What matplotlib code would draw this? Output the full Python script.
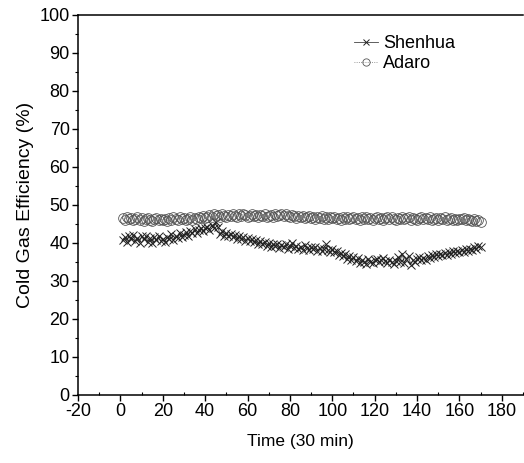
import matplotlib
matplotlib.use("Agg")
import matplotlib.pyplot as plt
from matplotlib.ticker import MultipleLocator

plt.rcParams['font.family'] = ['Liberation Sans', 'DejaVu Sans']
plt.rcParams['axes.unicode_minus'] = False

time = list(range(1, 171))

shenhua = [
    40.8, 41.5, 40.2, 41.9, 41.0, 42.1, 40.6, 41.3, 40.1, 41.7,
    40.9, 41.8, 40.3, 41.2, 40.0, 41.6, 40.7, 41.9, 40.4, 41.1,
    40.2, 41.5, 41.0, 42.3, 40.8, 41.9, 41.2, 42.6, 41.5, 42.2,
    42.8, 41.9, 43.1, 42.5, 43.6, 42.7, 43.3, 44.0, 43.2, 43.8,
    44.2, 43.5, 44.6, 43.9, 45.6, 44.1, 42.3, 43.0, 41.8, 42.6,
    41.9, 42.4, 41.5, 42.1, 41.0, 41.8, 40.9, 41.5, 40.6, 41.2,
    40.4, 41.0, 40.2, 40.8, 39.6, 40.5, 39.8, 40.3, 39.2, 39.9,
    38.9, 39.7, 39.1, 39.8, 38.7, 39.4, 38.8, 39.6, 38.5, 39.2,
    40.0, 38.6, 39.3, 38.4, 39.0, 38.2, 39.5, 38.7, 38.1, 38.9,
    38.3, 39.0, 37.9, 38.6, 37.8, 38.5, 39.6, 38.0, 37.7, 38.3,
    37.5, 37.9, 36.8, 37.4, 36.5, 37.1, 35.8, 36.6, 35.4, 36.2,
    35.2, 35.9, 34.8, 35.6, 35.1, 34.5, 35.7, 35.0, 34.6, 35.5,
    35.8, 34.9, 35.4, 36.0, 35.2, 34.7, 35.6, 35.0, 34.4, 35.3,
    36.4, 35.1, 37.2, 34.6, 35.8, 36.6, 34.3, 35.5, 34.9, 35.7,
    36.2, 35.4, 36.1, 35.6, 36.5, 36.0, 36.8, 36.3, 37.0, 36.6,
    37.2, 36.7, 37.4, 36.9, 37.6, 37.1, 37.8, 37.3, 37.9, 37.5,
    38.1, 37.7, 38.3, 37.9, 38.5, 38.2, 38.8, 38.4, 39.1, 38.9,
]

adaro = [
    46.5, 46.0, 46.8, 46.2, 46.6, 45.9, 46.4, 46.7, 46.1, 46.5,
    45.8, 46.3, 46.6, 46.0, 45.7, 46.2, 46.5, 45.9, 46.3, 46.0,
    46.4, 45.8, 46.6, 46.1, 46.8, 46.3, 46.0, 46.7, 46.2, 46.5,
    45.9, 46.4, 46.8, 46.1, 46.6, 46.3, 46.9, 46.5, 47.0, 46.6,
    46.9, 47.3, 46.7, 47.6, 47.1, 47.4, 46.9, 47.5, 47.2, 46.8,
    47.4, 47.0, 47.6, 47.2, 46.9, 47.5, 47.1, 47.7, 47.3, 46.9,
    47.2, 47.6, 47.0, 47.4, 46.8, 47.3, 47.1, 47.5, 46.9, 47.2,
    47.4, 46.9, 47.6, 47.1, 47.3, 47.7, 47.0, 47.5, 47.2, 46.8,
    47.3, 47.0, 46.6, 47.2, 46.8, 47.1, 46.5, 46.9, 47.2, 46.6,
    46.9, 46.3, 46.8, 46.5, 47.0, 46.4, 46.7, 46.2, 46.9, 46.5,
    46.8, 46.3, 46.6, 46.1, 46.7, 46.4, 46.9, 46.2, 46.5, 46.8,
    46.3, 46.6, 46.0, 46.7, 46.4, 46.9, 46.2, 46.5, 46.1, 46.6,
    46.8, 46.3, 46.6, 46.0, 46.5, 46.9, 46.2, 46.7, 46.4, 46.1,
    46.6, 46.3, 46.9, 46.2, 46.5, 46.8, 46.1, 46.6, 46.4, 46.0,
    46.5, 46.8, 46.2, 46.6, 46.3, 46.7, 46.0, 46.4, 46.6, 46.1,
    46.5, 46.2, 46.7, 46.0, 46.4, 46.6, 46.1, 46.3, 45.9, 46.4,
    46.2, 46.5, 45.9, 46.3, 46.0, 45.8, 46.2, 45.7, 45.9, 45.6,
]

fig = plt.figure(figsize=(5.24, 4.63), dpi=100)
ax = fig.add_axes([0.149, 0.147, 0.849, 0.821])

ax.plot(time, shenhua, color='#444444', lw=0.6, ls='-', marker='x',
        ms=5.5, mew=0.7, mec='#222222', label='Shenhua')
ax.plot(time, adaro, color='#777777', lw=0.6, ls=':', marker='o',
        ms=7, mew=0.6, mfc='none', mec='#555555', label='Adaro')

ax.set_xlim(-20, 190)
ax.set_ylim(0, 100)
ax.xaxis.set_major_locator(MultipleLocator(20))
ax.xaxis.set_minor_locator(MultipleLocator(10))
ax.yaxis.set_major_locator(MultipleLocator(10))
ax.yaxis.set_minor_locator(MultipleLocator(5))
ax.tick_params(axis='both', which='major', direction='out', length=4, width=1,
               labelsize=13, pad=2)
ax.tick_params(axis='both', which='minor', direction='out', length=2.5, width=0.8)
ax.tick_params(axis='x', which='minor', direction='in')
for s in ax.spines.values():
    s.set_linewidth(1.1)
ax.spines['right'].set_visible(False)

ax.set_xlabel('Time (30 min)', fontsize=12.5, labelpad=10)
ax.set_ylabel('Cold Gas Efficiency (%)', fontsize=14, labelpad=4)

leg = ax.legend(loc='upper left', bbox_to_anchor=(0.605, 0.965), frameon=False,
                fontsize=13, handlelength=1.3, handletextpad=0.3,
                labelspacing=0.15, borderaxespad=0, markerscale=0.75)

fig.savefig('out.png', dpi=100)
